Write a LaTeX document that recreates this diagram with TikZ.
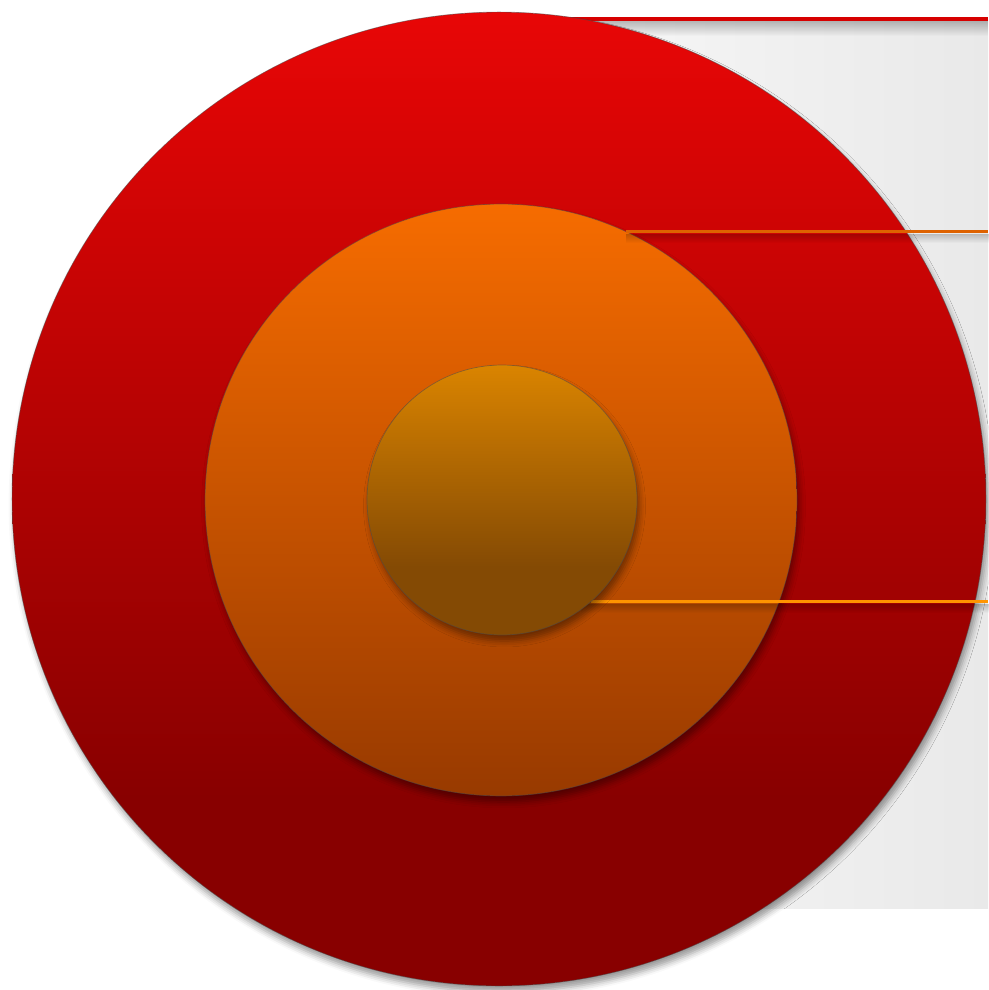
\documentclass[tikz,border=0pt]{standalone}
\usetikzlibrary{shadows.blur,fadings}
\definecolor{redtop}{HTML}{E80606}
\definecolor{redbot}{HTML}{880000}
\definecolor{ortop}{HTML}{F66C00}
\definecolor{orbot}{HTML}{983A00}
\definecolor{intop}{HTML}{DA8400}
\definecolor{inbot}{HTML}{844A04}
\definecolor{redline}{HTML}{D60000}
\definecolor{orline}{HTML}{DE6200}
\definecolor{ambline}{HTML}{FF9400}
\definecolor{panelL}{HTML}{F8F8F8}
\definecolor{panelR}{HTML}{E9E9E9}
\pgfdeclareverticalshading{redsh}{100bp}{color(0bp)=(redbot); color(34.6bp)=(redbot); color(75bp)=(redtop); color(100bp)=(redtop)}
\pgfdeclareverticalshading{insh}{100bp}{color(0bp)=(inbot); color(37.6bp)=(inbot); color(75bp)=(intop); color(100bp)=(intop)}
\tikzset{
  disc/.style={circle, inner sep=0pt, outer sep=0pt, draw=black!70, draw opacity=.55, line width=.4pt,
    blur shadow={shadow xshift=.05cm, shadow yshift=-.12cm, shadow blur radius=.12cm, shadow opacity=40}},
  leader/.style={line width=.065cm},
  lshadow/.style={black, opacity=.25, path fading=south}
}
\begin{document}
\begin{tikzpicture}[x=0.02cm,y=-0.02cm]
\useasboundingbox (0,0) rectangle (988,990);
% panel
\shade[left color=panelL, right color=panelR] (540,21) rectangle (988,908);
\fill[lshadow] (540,21) rectangle (988,36);
% red top line
\coordinate (r0) at (540,19);
\coordinate (r1) at (988,19);
\draw[leader, redline, line width=.08cm] (r0) -- (r1);
% red circle
\node[disc, shading=redsh, minimum size=19.48cm] (red) at (499,499) {};
% orange circle
\node[disc, top color=ortop, bottom color=orbot, minimum size=11.84cm] (orange) at (501,500) {};
% top orange leader
\coordinate (e1) at (988,230);
\fill[lshadow] (orange.65.8) ++(0,2) rectangle ++(400,9);
\draw[leader, orline] (orange.65.8) -- (orange.65.8 -| e1);
% lower leader
\coordinate (e2) at (988,602);
\node[inner sep=0pt, outer sep=0pt, circle, minimum size=5.4cm] (innerref) at (502,500) {};
\fill[lshadow] (innerref.-49.1) ++(-10,2) rectangle ++(420,9);
\draw[leader, ambline] (innerref.-49.1) -- (innerref.-49.1 -| e2);
% inner circle
\node[disc, shading=insh, minimum size=5.4cm] (inner) at (502,500) {};
\end{tikzpicture}
\end{document}
